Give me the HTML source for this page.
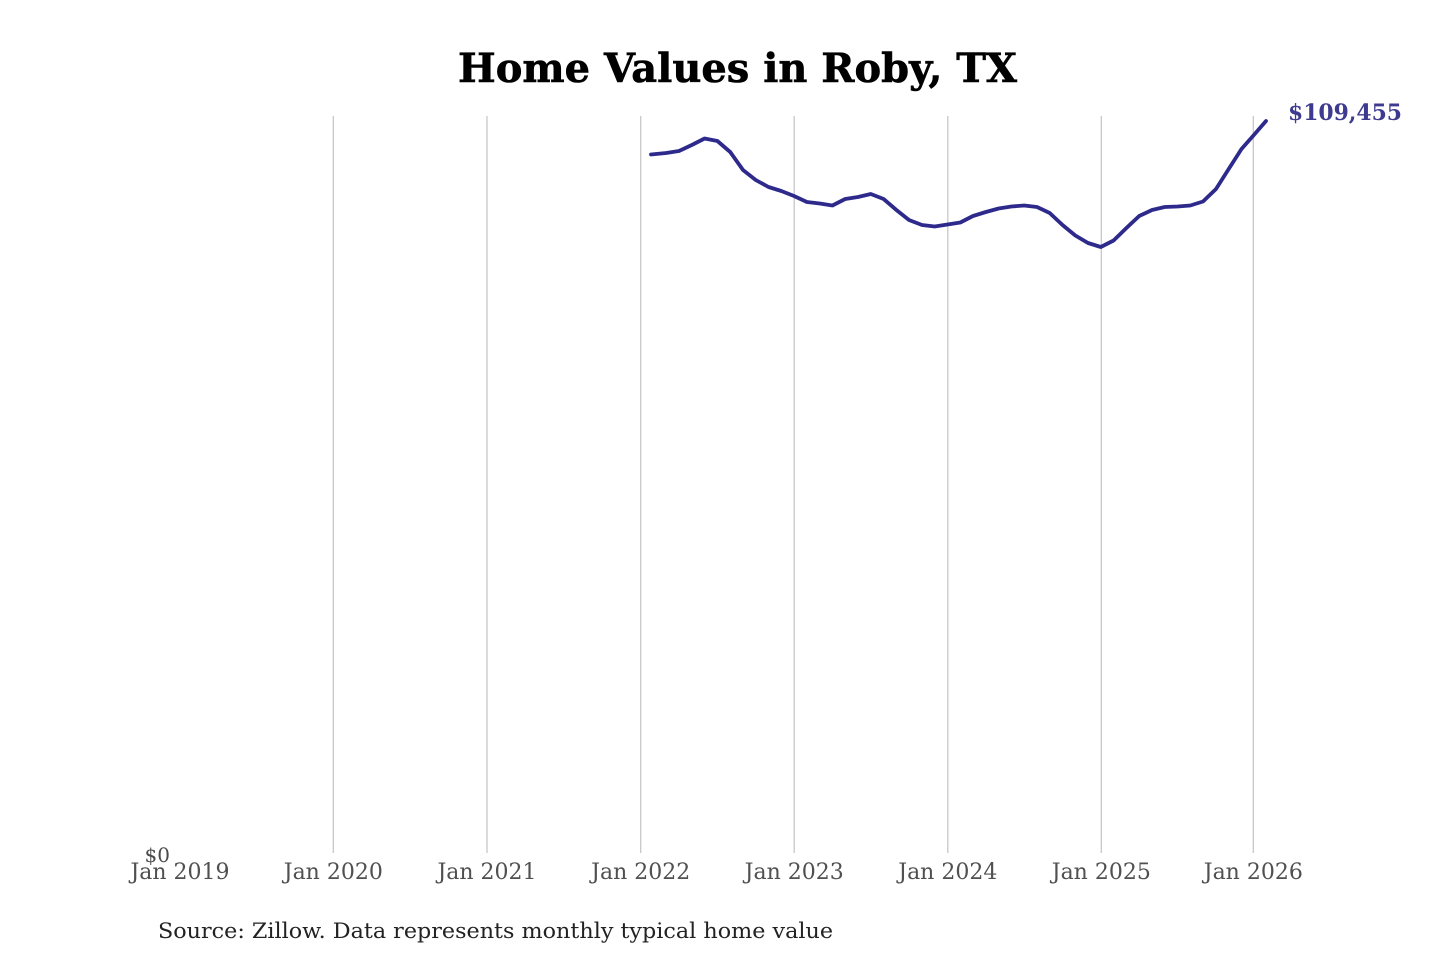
<!DOCTYPE html>
<html>
<head>
<meta charset="utf-8">
<style>
  html,body{margin:0;padding:0;background:#fff;}
  svg{display:block;}
  text{font-family:"DejaVu Serif","Liberation Serif",serif;}
</style>
</head>
<body>
<svg width="1440" height="960" viewBox="0 0 1440 960" xmlns="http://www.w3.org/2000/svg">
  <rect width="1440" height="960" fill="#ffffff"/>
  <text x="737.5" y="82" text-anchor="middle" font-size="40" font-weight="bold" fill="#000" stroke="#000" stroke-width="0.6" textLength="559" lengthAdjust="spacingAndGlyphs">Home Values in Roby, TX</text>

  <g stroke="#c8c8c8" stroke-width="1.3">
    <line x1="333.3" y1="116" x2="333.3" y2="853"/>
    <line x1="487" y1="116" x2="487" y2="853"/>
    <line x1="640.7" y1="116" x2="640.7" y2="853"/>
    <line x1="794.2" y1="116" x2="794.2" y2="853"/>
    <line x1="947.8" y1="116" x2="947.8" y2="853"/>
    <line x1="1101.3" y1="116" x2="1101.3" y2="853"/>
    <line x1="1253.3" y1="116" x2="1253.3" y2="853"/>
  </g>

  <polyline fill="none" stroke="#2e2a8c" stroke-width="3.8" stroke-linejoin="round" stroke-linecap="round"
    points="651,154.5 666.2,153 679,151 691.8,145 704.6,138.5 717.4,141 730.2,152 743,170 755.7,180 768.5,187 781.3,191 794,196 806.9,202 819.7,203.5 832.4,205.5 845.2,199 858,197 870.8,194 883.6,199 896.4,210 909,220 922,225 934.7,226.5 947.5,224.5 960.3,222.5 973,216 985.9,212 998.6,208.5 1011.4,206.5 1024.2,205.5 1037,207 1049.7,213 1062.5,225 1075.3,235.5 1088,243 1100.8,247 1113.6,240.5 1126.4,228 1139.2,216 1152,210 1164.7,207 1177.5,206.5 1190.3,205.5 1203,201.5 1216,189 1228.7,169 1241.5,149 1254.3,134.5 1266,121"/>

  <text x="1288" y="120" font-size="22" font-weight="bold" fill="#3d3a8f" textLength="114" lengthAdjust="spacingAndGlyphs">$109,455</text>

  <text x="170" y="862" text-anchor="end" font-size="20" fill="#4a4a4a">$0</text>

  <g font-size="22" fill="#505050" text-anchor="middle">
    <text x="180" y="879">Jan 2019</text>
    <text x="333.3" y="879">Jan 2020</text>
    <text x="487" y="879">Jan 2021</text>
    <text x="640.7" y="879">Jan 2022</text>
    <text x="794.2" y="879">Jan 2023</text>
    <text x="947.8" y="879">Jan 2024</text>
    <text x="1101.3" y="879">Jan 2025</text>
    <text x="1253.3" y="879">Jan 2026</text>
  </g>

  <text x="158" y="938" font-size="21.5" fill="#222" textLength="675" lengthAdjust="spacingAndGlyphs">Source: Zillow. Data represents monthly typical home value</text>
</svg>
</body>
</html>
